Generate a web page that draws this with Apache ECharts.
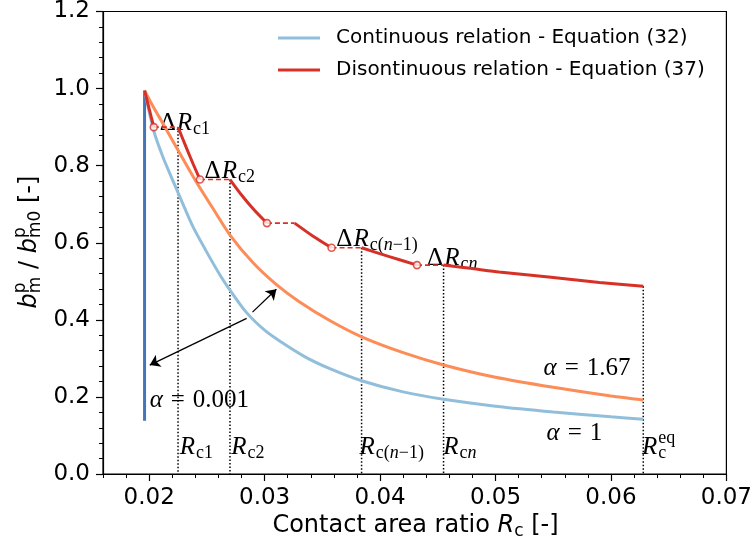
<!DOCTYPE html>
<html>
<head>
<meta charset="utf-8">
<script src="https://cdn.jsdelivr.net/npm/echarts@6/dist/echarts.min.js"></script>
<style>
  html, body { margin: 0; padding: 0; background: #fff; }
  #chart { width: 755px; height: 551px; }
</style>
</head>
<body>
<div id="chart"></div>
<script>
// Axis ticks
const xTickLabels = [0.02, 0.03, 0.04, 0.05, 0.06, 0.07];
const yTickLabels = [0.0, 0.2, 0.4, 0.6, 0.8, 1.0, 1.2];

// Continuous relation, alpha = 0.001 (vertical drop at the initial ratio)
const alpha001X = [0.0196, 0.0196];
const alpha001Y = [0.995, 0.138];

// Continuous relation, alpha = 1
const alpha1X = [0.0196, 0.0204, 0.0212, 0.0221, 0.0229, 0.0238, 0.0250, 0.0262, 0.0270, 0.0284, 0.0300, 0.0313, 0.0335, 0.0356, 0.0384, 0.0420, 0.0455, 0.0500, 0.0550, 0.0600, 0.0628];
const alpha1Y = [0.995, 0.890, 0.822, 0.758, 0.702, 0.641, 0.575, 0.513, 0.477, 0.420, 0.373, 0.345, 0.304, 0.274, 0.242, 0.213, 0.194, 0.176, 0.161, 0.1485, 0.142];

// Continuous relation, alpha = 1.67
const alpha167X = [0.0196, 0.0204, 0.0212, 0.0226, 0.0241, 0.0255, 0.0270, 0.0290, 0.0310, 0.0330, 0.0356, 0.0384, 0.0420, 0.0455, 0.0500, 0.0550, 0.0600, 0.0628];
const alpha167Y = [0.995, 0.950, 0.909, 0.835, 0.757, 0.690, 0.620, 0.548, 0.492, 0.447, 0.399, 0.356, 0.315, 0.283, 0.251, 0.225, 0.2025, 0.192];

// Discontinuous relation: solid branches between the jumps
const discBranch0 = [[0.0196, 0.995], [0.0204, 0.900]];
const discBranch1 = [[0.0225, 0.900], [0.0232, 0.848], [0.0238, 0.805], [0.0244, 0.764]];
const discBranch2 = [[0.0270, 0.764], [0.0280, 0.724], [0.0291, 0.685], [0.0302, 0.651]];
const discBranch3 = [[0.0326, 0.651], [0.0342, 0.617], [0.0358, 0.587]];
const discBranch4 = [[0.0384, 0.587], [0.0408, 0.564], [0.0432, 0.542]];
const discBranch5 = [[0.0455, 0.542], [0.0480, 0.533], [0.0503, 0.524], [0.0546, 0.511], [0.0590, 0.497], [0.0628, 0.487]];

// Plateaus (increments ΔRc): start ratio, end ratio and level
const plateauStart = [0.0204, 0.0244, 0.0302, 0.0358, 0.0432];
const plateauEnd   = [0.0225, 0.0270, 0.0326, 0.0384, 0.0455];
const plateauLevel = [0.900, 0.764, 0.651, 0.587, 0.542];

// Marked ratios Rc1, Rc2, Rc(n-1), Rcn, Rc^eq and the curve level at each
const markedRc    = [0.0225, 0.0270, 0.0384, 0.0455, 0.0628];
const markedLevel = [0.900, 0.764, 0.587, 0.542, 0.487];

// Double arrow between alpha = 0.001 and alpha = 1.67
const arrowFrom = [[0.02844, 0.404], [0.02895, 0.420]];
const arrowTo   = [[0.02005, 0.2825], [0.03102, 0.4795]];

const COL_RED = '#d73027', COL_ORANGE = '#fc8d59', COL_LBLUE = '#91bfdb', COL_DBLUE = '#4575b4';
const SANS = '"DejaVu Sans", sans-serif';
const SERIF = '"Liberation Serif", "DejaVu Serif", serif';

const zip = (xs, ys) => xs.map((x, i) => [x, ys[i]]);
const xMinorTicks = [];
for (let k = 0; k <= 27; k++) xMinorTicks.push(+(0.016 + k * 0.002).toFixed(3));

const NAME_CONT = 'Continuous relation - Equation (32)';
const NAME_DISC = 'Disontinuous relation - Equation (37)';

const series = [];
series.push({ name: 'alpha0001', type: 'line', data: zip(alpha001X, alpha001Y), showSymbol: false,
  lineStyle: { color: COL_DBLUE, width: 3 }, itemStyle: { color: COL_DBLUE }, z: 3 });
series.push({ name: NAME_CONT, type: 'line', data: zip(alpha1X, alpha1Y), showSymbol: false, smooth: 0.25,
  lineStyle: { color: COL_LBLUE, width: 3 }, itemStyle: { color: COL_LBLUE }, z: 3 });
series.push({ name: 'alpha167', type: 'line', data: zip(alpha167X, alpha167Y), showSymbol: false, smooth: 0.25,
  lineStyle: { color: COL_ORANGE, width: 3 }, itemStyle: { color: COL_ORANGE }, z: 3 });

[discBranch0, discBranch1, discBranch2, discBranch3, discBranch4, discBranch5].forEach(b => {
  series.push({ name: NAME_DISC, type: 'line', data: b, showSymbol: false, smooth: 0.25,
    lineStyle: { color: COL_RED, width: 3 }, itemStyle: { color: COL_RED }, z: 4 });
});

plateauStart.forEach((s, i) => {
  series.push({ name: 'plateau' + i, type: 'line', data: [[s, plateauLevel[i]], [plateauEnd[i], plateauLevel[i]]],
    showSymbol: false, lineStyle: { color: COL_RED, width: 1.6, type: [5, 3] }, z: 4 });
});

series.push({ name: 'jumps', type: 'scatter', data: zip(plateauStart, plateauLevel), symbol: 'circle', symbolSize: 7,
  itemStyle: { color: '#fff', borderColor: COL_RED, borderWidth: 1.6 }, z: 6 });

markedRc.forEach((x, i) => {
  series.push({ name: 'mark' + i, type: 'line', data: [[x, markedLevel[i]], [x, 0]], showSymbol: false,
    lineStyle: { color: '#000', width: 1.5, type: [1.5, 2] }, z: 2 });
});

series.push({ name: 'arrows', type: 'lines', coordinateSystem: 'cartesian2d', symbol: ['none', 'arrow'], symbolSize: [7, 10],
  lineStyle: { color: '#000', width: 1.3, opacity: 1 },
  data: arrowFrom.map((f, i) => ({ coords: [f, arrowTo[i]] })), z: 7, silent: true });

const option = {
  animation: false,
  backgroundColor: '#fff',
  grid: { left: 103, top: 11, width: 625, height: 463, show: true, borderColor: '#000', borderWidth: 1.2, backgroundColor: 'transparent' },
  legend: {
    data: [NAME_CONT, NAME_DISC], orient: 'vertical', left: 278, top: 28, padding: 0,
    itemWidth: 42, itemHeight: 20, itemGap: 12,
    icon: 'path://M0,8.5 L42,8.5 L42,11.5 L0,11.5 Z',
    textStyle: { fontFamily: SANS, fontSize: 20, color: '#000', padding: [0, 0, 0, 11] }
  },
  xAxis: [
    { type: 'value', min: 0.016, max: 0.07, position: 'bottom',
      axisLine: { show: true, lineStyle: { color: '#000', width: 1.2 } },
      axisTick: { show: true, customValues: xTickLabels, length: 7, lineStyle: { color: '#000', width: 1.2 } },
      axisLabel: { customValues: xTickLabels, formatter: v => v.toFixed(2), fontFamily: SANS, fontSize: 23, color: '#000', margin: 13 },
      splitLine: { show: false } },
    { type: 'value', min: 0.016, max: 0.07, position: 'bottom', gridIndex: 0,
      axisLine: { show: false },
      axisTick: { show: true, customValues: xMinorTicks, length: 4, lineStyle: { color: '#000', width: 1 } },
      axisLabel: { show: false }, splitLine: { show: false } }
  ],
  yAxis: {
    type: 'value', min: 0, max: 1.2, interval: 0.2,
    axisLine: { show: true, lineStyle: { color: '#000', width: 1.2 } },
    axisTick: { show: true, length: 7, lineStyle: { color: '#000', width: 1.2 } },
    minorTick: { show: true, splitNumber: 5, length: 4, lineStyle: { color: '#000', width: 1 } },
    axisLabel: { formatter: v => v.toFixed(1), fontFamily: SANS, fontSize: 23, color: '#000', margin: 13 },
    splitLine: { show: false }, minorSplitLine: { show: false }
  },
  series: series
};

const chart = echarts.init(document.getElementById('chart'), null, { renderer: 'canvas' });
chart.setOption(option);

// ---- math-style text built from pieces (sub/superscripts) ----
const measureCtx = document.createElement('canvas').getContext('2d');
function pieceFont(p, base) {
  return { size: p.size || base.size, family: p.family || base.family, italic: !!p.italic };
}
function textWidth(t, f) {
  measureCtx.font = (f.italic ? 'italic ' : '') + f.size + 'px ' + f.family;
  return measureCtx.measureText(t).width;
}
function buildMath(pieces, base) {
  let x = 0, prevStart = 0;
  const children = [];
  pieces.forEach(p => {
    const f = pieceFont(p, base);
    const w = textWidth(p.t, f);
    const px = p.stack ? prevStart : x + (p.gap || 0);
    children.push({ type: 'text', x: px, y: p.dy || 0, silent: true,
      style: { text: p.t, fontSize: f.size, fontFamily: f.family, fontStyle: f.italic ? 'italic' : 'normal',
               fill: '#000', align: 'left', verticalAlign: 'middle' } });
    if (p.stack) x = Math.max(x, px + w);
    else { prevStart = px; x = px + w; }
  });
  return { children, width: x };
}

const M = { size: 25, family: SERIF };
const S = 18;
const sub = (t, extra) => Object.assign({ t, size: S, dy: 6 }, extra || {});
const annotations = [
  { at: [0.02091, 0.910], pieces: [{ t: 'Δ' }, { t: 'R', italic: true, gap: 1 }, sub('c1', { gap: 1 })] },
  { at: [0.0248, 0.785], pieces: [{ t: 'Δ' }, { t: 'R', italic: true, gap: 1 }, sub('c2', { gap: 1 })] },
  { at: [0.03621, 0.609], pieces: [{ t: 'Δ' }, { t: 'R', italic: true, gap: 1 }, sub('c(', { gap: 1 }), sub('n', { italic: true }), sub('−1)')] },
  { at: [0.04407, 0.560], pieces: [{ t: 'Δ' }, { t: 'R', italic: true, gap: 1 }, sub('c', { gap: 1 }), sub('n', { italic: true })] },
  { at: [0.02264, 0.070], pieces: [{ t: 'R', italic: true }, sub('c1', { gap: 1 })] },
  { at: [0.0271, 0.070], pieces: [{ t: 'R', italic: true }, sub('c2', { gap: 1 })] },
  { at: [0.03822, 0.070], pieces: [{ t: 'R', italic: true }, sub('c(', { gap: 1 }), sub('n', { italic: true }), sub('−1)')] },
  { at: [0.04548, 0.070], pieces: [{ t: 'R', italic: true }, sub('c', { gap: 1 }), sub('n', { italic: true })] },
  { at: [0.06268, 0.070], pieces: [{ t: 'R', italic: true }, sub('c', { gap: 1 }), { t: 'eq', size: S, dy: -9, stack: true }] },
  { at: [0.02004, 0.192], pieces: [{ t: 'α', italic: true }, { t: '=', gap: 8 }, { t: '0.001', gap: 8 }] },
  { at: [0.05416, 0.275], pieces: [{ t: 'α', italic: true }, { t: '=', gap: 8 }, { t: '1.67', gap: 8 }] },
  { at: [0.05442, 0.106], pieces: [{ t: 'α', italic: true }, { t: '=', gap: 8 }, { t: '1', gap: 8 }] }
];

const graphics = annotations.map(a => {
  const p = chart.convertToPixel({ gridIndex: 0 }, a.at);
  const m = buildMath(a.pieces, M);
  return { type: 'group', x: p[0], y: p[1], children: m.children, z: 10 };
});

// Axis titles
const AX = { size: 24, family: SANS };
const xTitle = buildMath([{ t: 'Contact area ratio ' }, { t: 'R', italic: true }, { t: 'c', size: 17, dy: 6 }, { t: ' [-]' }], AX);
xTitle.children.forEach(c => c.x -= xTitle.width / 2);
graphics.push({ type: 'group', x: 415.5, y: 526, children: xTitle.children });

const yTitle = buildMath([
  { t: 'b', italic: true }, { t: 'm', size: 17, dy: 6 }, { t: 'p', size: 17, dy: -9, stack: true },
  { t: ' / ' },
  { t: 'b', italic: true }, { t: 'm0', size: 17, dy: 6 }, { t: 'p', size: 17, dy: -9, stack: true },
  { t: ' [-]' }
], AX);
yTitle.children.forEach(c => c.x -= yTitle.width / 2);
graphics.push({ type: 'group', x: 30, y: 242, rotation: Math.PI / 2, children: yTitle.children });

chart.setOption({ graphic: graphics });
</script>
</body>
</html>
